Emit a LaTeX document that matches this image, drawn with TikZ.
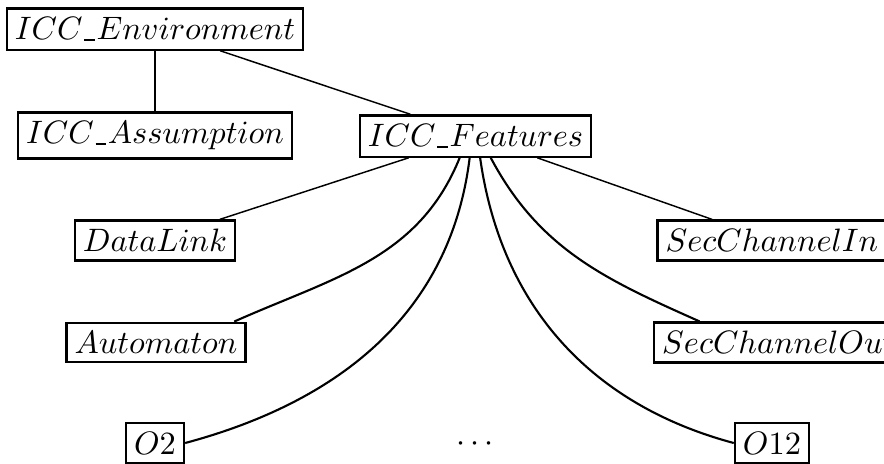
\documentclass[tikz,border=0pt]{standalone}
\usepackage{tikz}

% short underscore as in the original labels
\newcommand{\uscore}{\mbox{\kern0.05em\rule[-0.05em]{0.33em}{0.6pt}\kern0.05em}}

\begin{document}
\begin{tikzpicture}[
    x=0.3086pt, y=-0.3086pt,
    part/.style={draw, line width=0.7pt, inner xsep=2.5pt, inner ysep=2.7pt, anchor=center},
    link/.style={line width=0.45pt},
    bend-link/.style={line width=0.65pt}
  ]

\useasboundingbox (0,0) rectangle (884,463);

% Environment and its two children
\node[part] (env) at (155,29) {$ICC\uscore Environment$};
\node[part] (assum) at (155,135.5) {$ICC\uscore Assumption$};
\node[part] (feat) at (475.5,136) {$ICC\uscore Features$};

% Features
\node[part] (dlink) at (155,240.5) {$DataLink$};
\node[part] (secin) at (772,240.5) {$SecChannelIn$};
\node[part] (autom) at (156,342.5) {$Automaton$};
\node[part, anchor=west] (secout) at (653,342.5) {$SecChannelOut$};
\node[part] (o2) at (155,443) {$O2$};
\node (dots) at (475,444) {$\cdots$};
\node[part] (o12) at (772,443) {$O12$};

% Straight links
\draw[bend-link] (env) -- (assum);
\draw[link] (env) -- (feat);
\draw[link] (feat) -- (dlink);
\draw[link] (feat) -- (secin);

% Curved links
\draw[bend-link] (feat.-126) to[out=-112, in=24] (autom.15);
\draw[bend-link] (feat.-105) to[out=-97, in=15] (o2.east);
\draw[bend-link] (feat.-78) to[out=-82, in=165] (o12.west);
\draw[bend-link] (feat.-55) to[out=-62, in=156] (secout.165);

\end{tikzpicture}
\end{document}
